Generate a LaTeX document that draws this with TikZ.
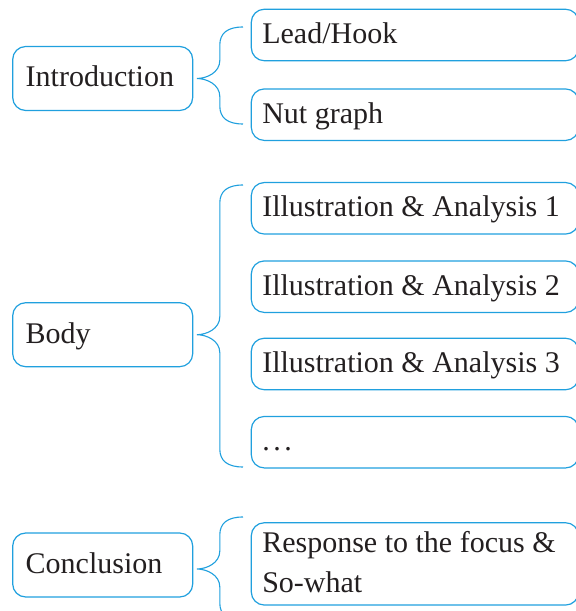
\documentclass[tikz,border=0pt]{standalone}
\usepackage{fontspec}
\setmainfont{Liberation Serif}
\usetikzlibrary{calc}
\definecolor{lineblue}{RGB}{32,160,222}
\definecolor{inkgray}{RGB}{35,31,32}
\tikzset{
  boxbase/.style={draw=lineblue, line width=1.2pt, rounded corners=13pt,
    text=inkgray, font=\fontsize{30}{39.4}\selectfont, align=left,
    text height=21pt, text depth=4pt,
    execute at begin node={\spaceskip=0pt\xspaceskip=0pt\relax}},
  leftbox/.style={boxbase, inner xsep=13pt, inner ysep=0pt, text width=154pt,
    minimum height=64pt},
  rightbox/.style={boxbase, anchor=west, inner xsep=11pt, inner ysep=0pt,
    text width=305.3pt, minimum height=51.5pt},
  brace/.style={draw=lineblue, line width=1.1pt}
}
\newcommand\mybrace[3]{%
  \draw[brace] let \p1=(#1), \p2=(#2), \p3=(#3) in
    (\p2) .. controls (\x1+31pt,\y2) and (\x1+23pt,\y2-6pt) .. (\x1+23pt,\y2-18pt)
    -- (\x1+23pt,\y1+18pt) .. controls (\x1+23pt,\y1+6pt) and (\x1+10pt,\y1) .. (\p1)
    .. controls (\x1+10pt,\y1) and (\x1+23pt,\y1-6pt) .. (\x1+23pt,\y1-18pt)
    -- (\x1+23pt,\y3+18pt) .. controls (\x1+23pt,\y3+6pt) and (\x1+31pt,\y3) .. (\p3);}
\begin{document}
\begin{tikzpicture}[x=1pt,y=1pt]
\clip (0,0) rectangle (576,611);
% left boxes
\node[leftbox] (intro) at (102.7,532.5) {Introduction};
\node[leftbox] (body)  at (102.7,276.3) {Body};
\node[leftbox] (concl) at (102.7,46) {Conclusion};
% right boxes
\node[rightbox] (lead) at (250.7,576) {Lead/Hook};
\node[rightbox] (nut)  at (250.7,496.3) {Nut graph};
\node[rightbox] (ia1)  at (250.7,402.7) {Illustration \& Analysis 1};
\node[rightbox] (ia2)  at (250.7,324.3) {Illustration \& Analysis 2};
\node[rightbox] (ia3)  at (250.7,247) {Illustration \& Analysis 3};
\node[rightbox] (dots) at (250.7,168.8) {.\kern3.5pt.\kern3.5pt.};
\node[rightbox, minimum height=82.3pt, text depth=43.4pt] (resp) at (250.7,47.1)
  {Response to the focus \&\\So-what};
% brace anchor points
\coordinate (m1) at ($(intro.east)+(3.5,0)$);
\coordinate (t1) at ($(lead.west)+(-7.7,8)$);
\coordinate (b1) at ($(nut.west)+(-7.7,-9.3)$);
\coordinate (m2) at ($(body.east)+(3.5,0)$);
\coordinate (t2) at ($(ia1.west)+(-7.7,23.3)$);
\coordinate (b2) at ($(dots.west)+(-7.7,-24.8)$);
\coordinate (m3) at ($(concl.east)+(3.5,-4)$);
\coordinate (t3) at ($(resp.west)+(-7.7,46.9)$);
\coordinate (b3) at ($(resp.west)+(-7.7,-57.1)$);
\mybrace{m1}{t1}{b1}
\mybrace{m2}{t2}{b2}
\mybrace{m3}{t3}{b3}
\end{tikzpicture}
\end{document}
